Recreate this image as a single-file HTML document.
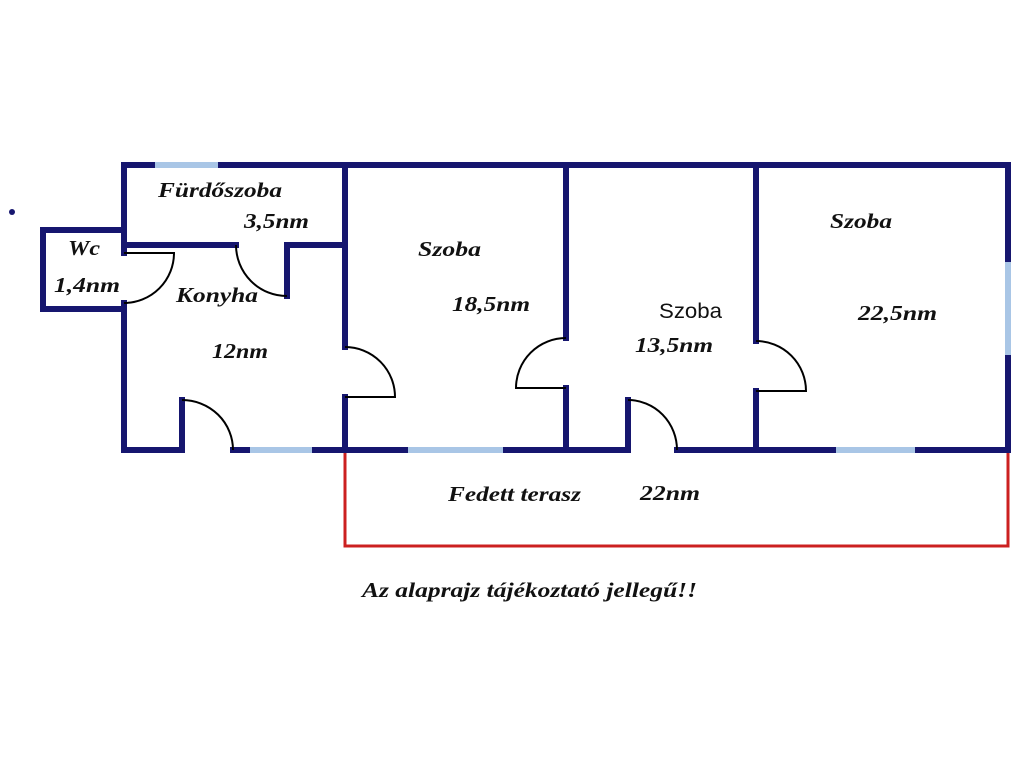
<!DOCTYPE html>
<html><head><meta charset="utf-8"><style>
html,body{margin:0;padding:0;background:#fff;width:1024px;height:768px;overflow:hidden}
svg{display:block}
.w{stroke:#16166f;stroke-width:6;fill:none;stroke-linecap:square}
.win{stroke:#a9c6e6;stroke-width:6;fill:none}
.d{stroke:#000;stroke-width:2;fill:none}
.t{font-family:"Liberation Serif",serif;font-style:italic;font-weight:bold;font-size:21px;fill:#111}
.s{font-family:"Liberation Sans",sans-serif;font-size:21px;fill:#111}
</style></head><body>
<svg width="1024" height="768" viewBox="0 0 1024 768">
<circle cx="12" cy="212" r="3" fill="#16166f"/>
<path d="M345,450 V546 H1008 V450" stroke="#cc2020" stroke-width="3" fill="none"/>
<path class="w" d="M124,165 H1008 V450"/>
<line class="win" x1="155" y1="165" x2="218" y2="165"/>
<line class="win" x1="1008" y1="262" x2="1008" y2="355"/>
<path class="w" d="M124,450 H182"/>
<path class="w" d="M233,450 H628"/>
<path class="w" d="M677,450 H1008"/>
<line class="win" x1="250" y1="450" x2="312" y2="450"/>
<line class="win" x1="408" y1="450" x2="503" y2="450"/>
<line class="win" x1="836" y1="450" x2="915" y2="450"/>
<path class="w" d="M124,165 V253"/>
<path class="w" d="M124,303 V450"/>
<path class="w" d="M124,230 H43 V309 H124"/>
<path class="w" d="M124,245 H236"/>
<path class="w" d="M287,245 H345"/>
<path class="w" d="M287,245 V296"/>
<path class="w" d="M345,165 V347"/>
<path class="w" d="M345,397 V450"/>
<path class="w" d="M566,165 V338"/>
<path class="w" d="M566,388 V450"/>
<path class="w" d="M756,165 V341"/>
<path class="w" d="M756,391 V450"/>
<path class="w" d="M182,400 V450"/>
<path class="w" d="M628,400 V450"/>
<path class="d" d="M124,253 H174 A50,50 0 0 1 124,303"/>
<path class="d" d="M236,245 A51,51 0 0 0 287,296"/>
<path class="d" d="M345,347 A50,50 0 0 1 395,397 H345"/>
<path class="d" d="M566,338 A50,50 0 0 0 516,388 H566"/>
<path class="d" d="M756,341 A50,50 0 0 1 806,391 H756"/>
<path class="d" d="M182,400 A51,50 0 0 1 233,450"/>
<path class="d" d="M628,400 A49,50 0 0 1 677,450"/>
<text class="t" x="158" y="197" textLength="124" lengthAdjust="spacingAndGlyphs">Fürdőszoba</text>
<text class="t" x="244" y="228" textLength="65" lengthAdjust="spacingAndGlyphs">3,5nm</text>
<text class="t" x="68" y="255" textLength="32" lengthAdjust="spacingAndGlyphs">Wc</text>
<text class="t" x="54" y="292" textLength="66" lengthAdjust="spacingAndGlyphs">1,4nm</text>
<text class="t" x="176" y="302" textLength="82" lengthAdjust="spacingAndGlyphs">Konyha</text>
<text class="t" x="212" y="358" textLength="56" lengthAdjust="spacingAndGlyphs">12nm</text>
<text class="t" x="418" y="256" textLength="63" lengthAdjust="spacingAndGlyphs">Szoba</text>
<text class="t" x="452" y="311" textLength="78" lengthAdjust="spacingAndGlyphs">18,5nm</text>
<text class="s" x="659" y="318" textLength="63" lengthAdjust="spacingAndGlyphs">Szoba</text>
<text class="t" x="635" y="352" textLength="78" lengthAdjust="spacingAndGlyphs">13,5nm</text>
<text class="t" x="830" y="228" textLength="62" lengthAdjust="spacingAndGlyphs">Szoba</text>
<text class="t" x="858" y="320" textLength="79" lengthAdjust="spacingAndGlyphs">22,5nm</text>
<text class="t" x="448" y="501" textLength="133" lengthAdjust="spacingAndGlyphs">Fedett terasz</text>
<text class="t" x="640" y="500" textLength="60" lengthAdjust="spacingAndGlyphs">22nm</text>
<text class="t" x="362" y="597" textLength="335" lengthAdjust="spacingAndGlyphs">Az alaprajz tájékoztató jellegű!!</text>
</svg>
</body></html>
